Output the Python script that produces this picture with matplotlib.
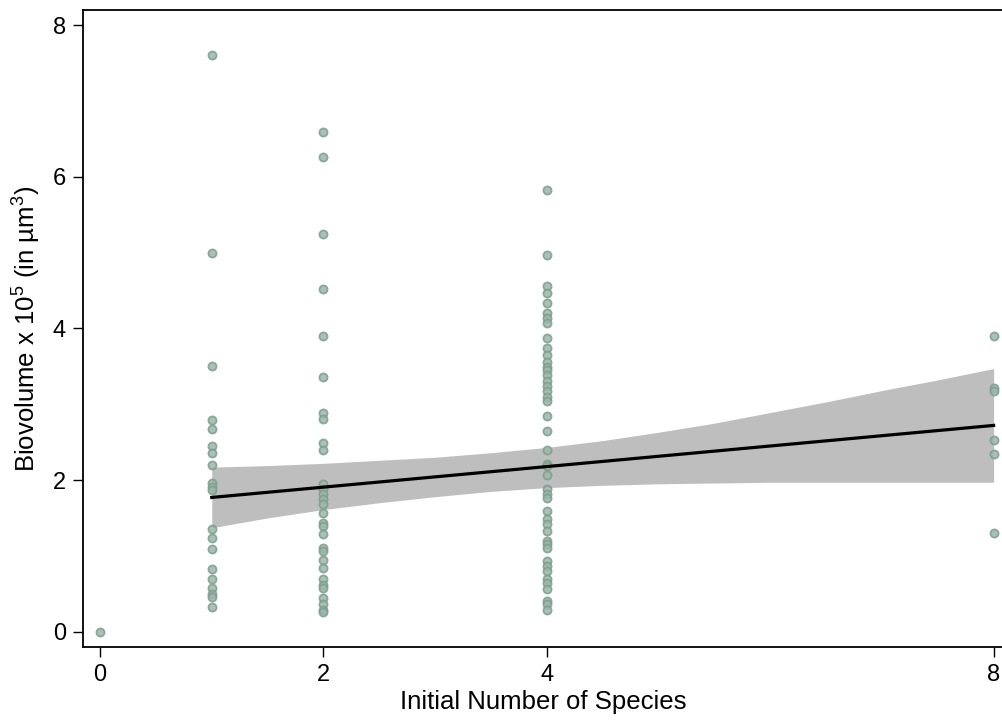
import matplotlib
matplotlib.use("Agg")
import matplotlib.pyplot as plt
import numpy as np

plt.rcParams['font.family'] = ['Liberation Sans', 'DejaVu Sans']
plt.rcParams['mathtext.default'] = 'regular'

# biovolume values, grouped by initial number of species
bv_0 = [0.0]
bv_1 = [7.60, 5.00, 3.51, 2.79, 2.67, 2.45, 2.35, 2.20, 1.96, 1.91, 1.87,
        1.35, 1.23, 1.09, 0.82, 0.70, 0.58, 0.49, 0.46, 0.33]
bv_2 = [6.59, 6.26, 5.25, 4.52, 3.90, 3.36, 2.88, 2.80, 2.49, 2.39, 1.95,
        1.88, 1.82, 1.75, 1.68, 1.56, 1.43, 1.39, 1.29, 1.10, 1.07, 0.95,
        0.84, 0.69, 0.62, 0.57, 0.44, 0.36, 0.29, 0.26]
bv_4 = [5.82, 4.97, 4.56, 4.47, 4.34, 4.20, 4.14, 4.07, 3.87, 3.74, 3.65,
        3.55, 3.49, 3.45, 3.38, 3.31, 3.24, 3.17, 3.10, 3.04, 2.85, 2.64,
        2.40, 2.21, 2.19, 2.06, 1.88, 1.82, 1.76, 1.59, 1.49, 1.42, 1.33,
        1.19, 1.15, 1.10, 0.93, 0.86, 0.80, 0.70, 0.64, 0.56, 0.40, 0.36,
        0.29]
bv_8 = [3.90, 3.22, 3.17, 2.53, 2.34, 1.30]

groups = {0: bv_0, 1: bv_1, 2: bv_2, 4: bv_4, 8: bv_8}
xticks = [0, 2, 4, 8]

# fitted line and 95% CI band
fit_x = [1, 8]
fit_y = [1.77, 2.72]
band_x = [1, 1.5, 2, 2.5, 3, 3.5, 4, 4.5, 5, 5.5, 6, 6.5, 7, 7.5, 8]
band_lo = [1.37, 1.50, 1.61, 1.70, 1.78, 1.85, 1.90, 1.93, 1.95, 1.96,
           1.97, 1.97, 1.97, 1.97, 1.97]
band_hi = [2.17, 2.19, 2.22, 2.26, 2.30, 2.36, 2.43, 2.52, 2.63, 2.75,
           2.89, 3.03, 3.18, 3.32, 3.47]

x_all = np.concatenate([[k] * len(v) for k, v in groups.items()]).astype(float)
y_all = np.concatenate([v for v in groups.values()])

fig = plt.figure(figsize=(10.03, 7.23), dpi=100)
ax = fig.add_axes([0.0825, 0.1051, 0.9175, 0.8811])

ax.fill_between(band_x, band_lo, band_hi, color='#bebebe', lw=0, zorder=1)
ax.scatter(x_all, y_all, s=34, facecolor='#9db6ac', edgecolor='#7d9d91',
           linewidth=1.3, alpha=0.85, zorder=2)
ax.plot(fit_x, fit_y, color='black', lw=2.3, zorder=3)

ax.set_xlim(-0.155, 8.084)
ax.set_ylim(-0.203, 8.20)
ax.set_xticks(xticks)
ax.set_yticks([0, 2, 4, 6, 8])
ax.tick_params(direction='out', length=7, width=1.0, labelsize=17, pad=5)
ax.spines['right'].set_visible(False)
for sp in ['left', 'bottom', 'top']:
    ax.spines[sp].set_linewidth(1.3)

ax.set_xlabel('Initial Number of Species', fontsize=18.5, labelpad=3)
ax.set_ylabel('Biovolume x 10$^{5}$ (in µm$^{3}$)', fontsize=18.5, labelpad=7)

fig.savefig('out.png', dpi=100)
